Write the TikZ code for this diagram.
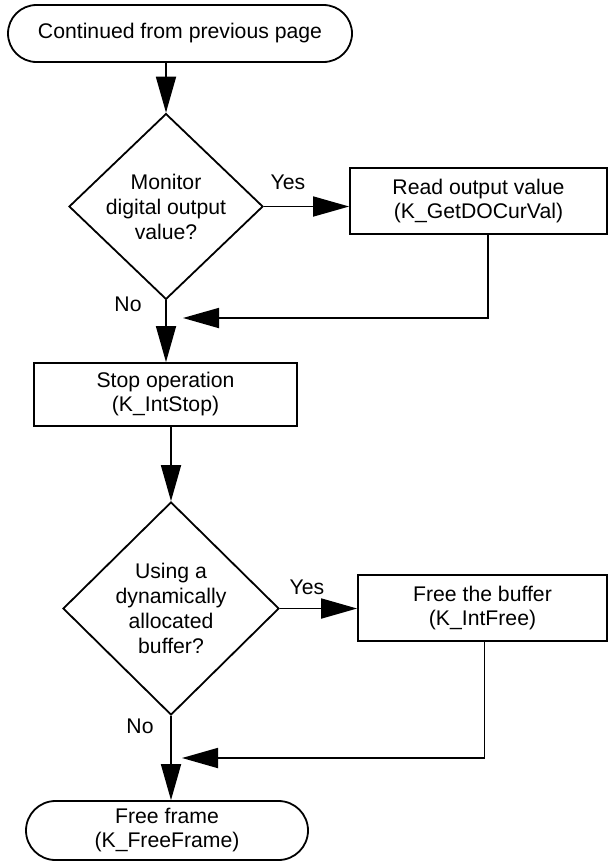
\documentclass[tikz,border=0pt]{standalone}
\usepackage{fontspec}
\setmainfont{Liberation Sans}
\usetikzlibrary{shapes.geometric,shapes.misc,arrows.meta}
\begin{document}
\begin{tikzpicture}[x=0.5pt,y=-0.5pt,
  font=\fontsize{10.6}{12}\selectfont, line width=0.9pt,
  terminal/.style={draw, rounded rectangle, inner sep=0pt, align=center},
  procbox/.style={draw, rectangle, inner sep=0pt, align=center},
  decision/.style={draw, diamond, inner sep=0pt, align=center, font=\fontsize{10.6}{12.5}\selectfont},
  flow/.style={-{Triangle[length=18pt,width=10pt]}},
  lbl/.style={inner sep=0pt}]
\useasboundingbox (0,0) rectangle (609,862);

\node[terminal, minimum width=172pt, minimum height=28.5pt] (t1) at (180,33.5) {Continued from previous page};
\node[decision, minimum width=97pt, minimum height=90.5pt] (d1) at (166,206.5) {Monitor\\digital output\\value?};
\node[procbox, minimum width=128.5pt, minimum height=33pt] (b1) at (478.5,201) {Read output value\\(K\_GetDOCurVal)};
\node[procbox, minimum width=131.5pt, minimum height=31.5pt] (s1) at (165.5,394.5) {Stop operation\\(K\_IntStop)};
\node[decision, minimum width=108pt, minimum height=106.5pt] (d2) at (171,608.5) {Using a\\dynamically\\allocated\\buffer?};
\node[procbox, minimum width=124.5pt, minimum height=33pt] (b2) at (482.5,608) {Free the buffer\\(K\_IntFree)};
\node[terminal, minimum width=141pt, minimum height=29.5pt] (t2) at (167,830.5) {Free frame\\(K\_FreeFrame)};

\node[lbl] (y1) at (288,182) {Yes};
\node[lbl] (n1) at (128,304) {No};
\node[lbl] (y2) at (307,587) {Yes};
\node[lbl] (n2) at (140,726) {No};

\coordinate (r1) at (183,318);
\coordinate (r2) at (182,758);

\draw[flow] (d1.north |- t1.south) -- (d1.north);
\draw[flow] (d1.east) -- (d1.east -| b1.west);
\draw[flow] ([xshift=4.75pt]b1.south) |- (r1);
\draw[flow] (d1.south) -- (d1.south |- s1.north);
\draw[flow] (s1.south -| d2.north) -- (d2.north);
\draw[flow] (d2.east) -- (d2.east -| b2.west);
\draw[flow] ([xshift=1pt]b2.south) |- (r2);
\draw[flow] (d2.south) -- (d2.south |- t2.north);
\end{tikzpicture}
\end{document}
